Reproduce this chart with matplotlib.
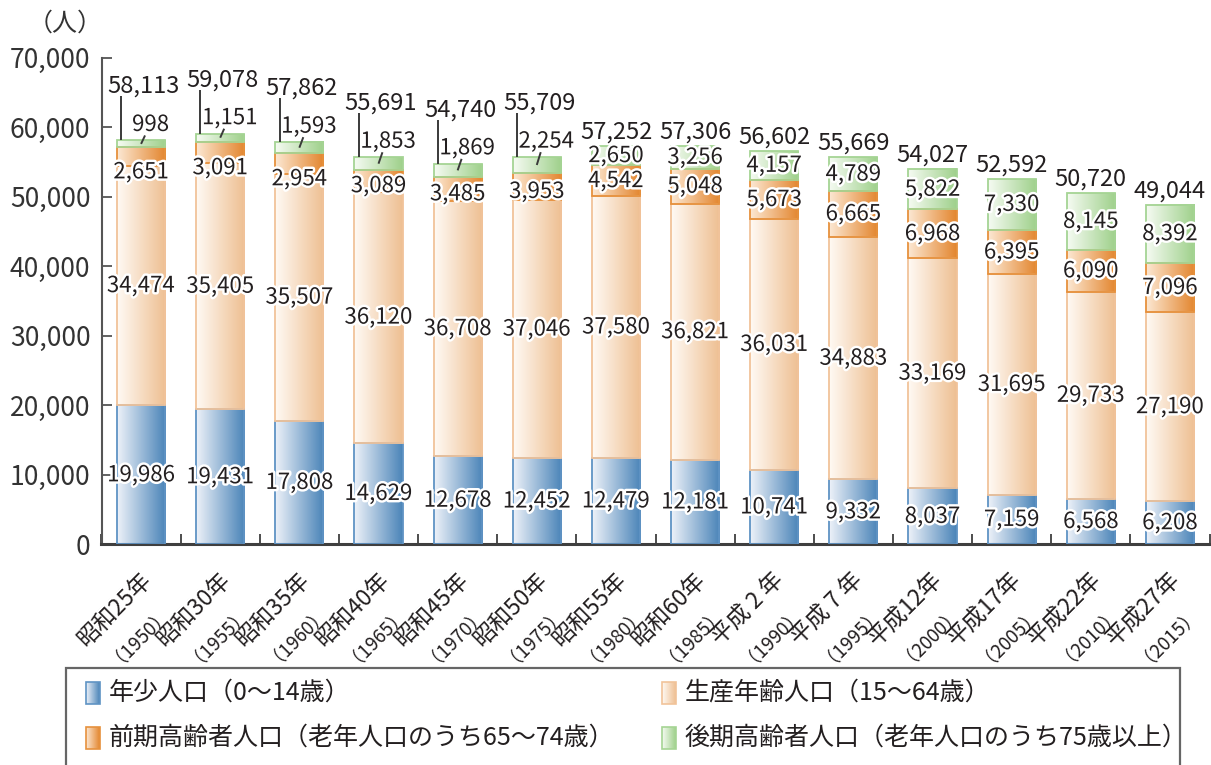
import matplotlib.pyplot as plt
import matplotlib.patheffects as pe
import numpy as np
from matplotlib.colors import LinearSegmentedColormap
from matplotlib.patches import Rectangle
from matplotlib.ticker import FuncFormatter

plt.rcParams['font.family'] = ['Noto Sans CJK JP', 'DejaVu Sans']

eras = ['昭和25年', '昭和30年', '昭和35年', '昭和40年', '昭和45年', '昭和50年', '昭和55年',
        '昭和60年', '平成 2 年', '平成 7 年', '平成12年', '平成17年', '平成22年', '平成27年']
years = ['1950', '1955', '1960', '1965', '1970', '1975', '1980',
         '1985', '1990', '1995', '2000', '2005', '2010', '2015']
totals = [58113, 59078, 57862, 55691, 54740, 55709, 57252, 57306, 56602, 55669, 54027, 52592, 50720, 49044]
young = [19986, 19431, 17808, 14629, 12678, 12452, 12479, 12181, 10741, 9332, 8037, 7159, 6568, 6208]
working = [34474, 35405, 35507, 36120, 36708, 37046, 37580, 36821, 36031, 34883, 33169, 31695, 29733, 27190]
early_old = [2651, 3091, 2954, 3089, 3485, 3953, 4542, 5048, 5673, 6665, 6968, 6395, 6090, 7096]
late_old = [998, 1151, 1593, 1853, 1869, 2254, 2650, 3256, 4157, 4789, 5822, 7330, 8145, 8392]

legend_labels = ['年少人口（0～14歳）', '生産年齢人口（15～64歳）',
                 '前期高齢者人口（老年人口のうち65～74歳）', '後期高齢者人口（老年人口のうち75歳以上）']

# (light, dark, edge) for each stacked series, bottom to top
styles = [
    ('#eef2f9', '#4a84b8', '#5f93c4'),
    ('#fffaf4', '#eebf92', '#f1c39a'),
    ('#fce8d4', '#e3862e', '#e6913d'),
    ('#f6fbf3', '#9ed08a', '#a5d494'),
]

TXT = '#231f20'
W, H = 1211, 765
PX = 70000 / 486.5          # data units per pixel (y)
stroke = [pe.withStroke(linewidth=3.5, foreground='white')]

fig = plt.figure(figsize=(W / 100, H / 100), dpi=100)
ax = fig.add_axes([101.5 / W, 1 - 544.3 / H, 1108 / W, 486.5 / H])

x = np.arange(len(eras))
grad = np.linspace(0, 1, 256).reshape(1, -1)
bottom = np.zeros(len(eras))
series = [young, working, early_old, late_old]
seg_bottoms = []
for vals, (c0, c1, ec) in zip(series, styles):
    vals = np.array(vals, dtype=float)
    bars = ax.bar(x, vals, width=0.61, bottom=bottom, facecolor='none',
                  edgecolor=ec, linewidth=1.3, zorder=3)
    cmap = LinearSegmentedColormap.from_list('g', [c0, c1])
    for b in bars:
        ax.imshow(grad, cmap=cmap, aspect='auto', interpolation='bilinear', zorder=2,
                  extent=(b.get_x(), b.get_x() + b.get_width(), b.get_y(), b.get_y() + b.get_height()))
    seg_bottoms.append(bottom.copy())
    bottom = bottom + vals
tops = bottom

ax.set_xlim(-0.5, len(eras) - 0.5)
ax.set_ylim(0, 70000)


def label(xp, yp, v, **kw):
    ax.text(xp, yp, f'{v:,}', ha='center', va='center', fontsize=16, color=TXT,
            path_effects=stroke, zorder=5, **kw)


for i in x:
    # young and working-age, centred in the segment
    label(i, seg_bottoms[0][i] + young[i] / 2, young[i])
    label(i, seg_bottoms[1][i] + working[i] / 2, working[i])

    # early elderly: small segments get their label pushed down a bit
    shift = 2200 if i < 3 else (700 if i < 6 else 0)
    label(i, seg_bottoms[2][i] + early_old[i] / 2 - shift, early_old[i])

    if i < 6:
        # late elderly too thin: label above with a leader
        ly = tops[i] + 16 * PX
        lx = i + 0.12
        label(lx, ly, late_old[i])
        ax.plot([lx - 0.07, lx - 0.12], [tops[i] + 5 * PX, seg_bottoms[3][i] + late_old[i] / 2],
                color='#3a3a3a', lw=1.4, zorder=6, solid_capstyle='butt')
        ty = tops[i] + 54 * PX
        ax.text(i + 0.03, ty, f'{totals[i]:,}', ha='center', va='center', fontsize=17, color=TXT, zorder=5)
        ax.plot([i - 0.25, i - 0.25], [ty - 10 * PX, tops[i]], color='#3a3a3a', lw=1.4, zorder=6,
                solid_capstyle='butt')
    else:
        label(i, seg_bottoms[3][i] + late_old[i] / 2, late_old[i])
        ax.annotate(f'{totals[i]:,}', xy=(i, tops[i]), xytext=(0, 10), textcoords='offset points',
                    ha='center', va='center', fontsize=17, color=TXT, zorder=5)

# category labels, rotated, era on the first line and year under it
for i in x:
    ax.annotate(eras[i], xy=(i, 0), xycoords=('data', 'axes fraction'), xytext=(-19, -47),
                textcoords='offset points', rotation=45, rotation_mode='anchor',
                ha='center', va='center', fontsize=16.5, color=TXT, annotation_clip=False)
    ax.annotate(f'（{years[i]}）', xy=(i, 0), xycoords=('data', 'axes fraction'), xytext=(-4, -62),
                textcoords='offset points', rotation=45, rotation_mode='anchor',
                ha='center', va='center', fontsize=13.5, color=TXT, annotation_clip=False)

ax.spines[['top', 'right']].set_visible(False)
ax.spines['left'].set_color('#555555')
ax.spines['left'].set_linewidth(1.5)
ax.spines['bottom'].set_color('#3f3f3f')
ax.spines['bottom'].set_linewidth(2.2)
ax.set_yticks(np.arange(0, 70001, 10000))
ax.yaxis.set_major_formatter(FuncFormatter(lambda v, _: f'{v:,.0f}'))
ax.tick_params(axis='y', direction='in', length=7, width=1.3, color='#555555',
               labelsize=19, labelcolor='#333333', pad=8)
ax.set_xticks(np.arange(-0.5, len(eras), 1.0))
ax.set_xticklabels([])
ax.tick_params(axis='x', direction='in', length=7, width=1.3, color='#3f3f3f')

fig.text(28 / W, 1 - 24 / H, '（人）', fontsize=18, color='#333333', va='center', ha='left')

# legend drawn in pixel coordinates
lg = fig.add_axes([0, 0, 1, 1])
lg.patch.set_visible(False)
lg.axis('off')
lg.add_patch(Rectangle((66, 668), 1114, 140, facecolor='white', edgecolor='#666666', lw=1.6, zorder=1))
spots = [(86, 693), (662, 693), (86, 738), (662, 738)]
for (sx, sy), (c0, c1, ec), text in zip(spots, styles, legend_labels):
    cmap = LinearSegmentedColormap.from_list('g', [c0, c1])
    lg.imshow(grad, cmap=cmap, aspect='auto', interpolation='bilinear', zorder=2,
              extent=(sx, sx + 14, sy + 11, sy - 11))
    lg.add_patch(Rectangle((sx, sy - 11), 14, 22, facecolor='none', edgecolor=ec, lw=1.2, zorder=3))
    lg.text(sx + 23, sy, text, fontsize=18, color=TXT, va='center', ha='left', zorder=4)
lg.set_xlim(0, W)
lg.set_ylim(H, 0)

fig.savefig('out.png', dpi=100)
